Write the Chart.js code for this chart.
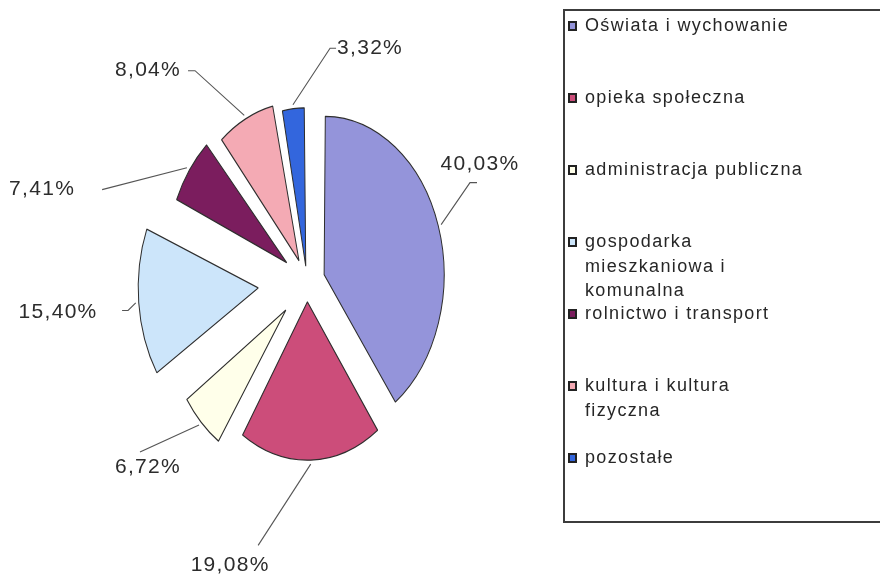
<!DOCTYPE html>
<html><head><meta charset="utf-8">
<script src="https://cdn.jsdelivr.net/npm/chart.js@4/dist/chart.umd.min.js"></script>
<style>
html,body{margin:0;padding:0;background:#fff;overflow:hidden;}
#wrap{position:relative;width:880px;height:579px;}
canvas{position:absolute;left:0;top:0;}
#legend{position:absolute;left:563px;top:9px;width:340px;height:514px;border:2px solid #3c3c3c;box-sizing:border-box;font-family:'Liberation Sans',Arial,sans-serif;font-size:18px;letter-spacing:1.35px;color:#262626;}
.item{position:absolute;left:20px;line-height:24.5px;white-space:nowrap;}
.sw{position:absolute;left:-17px;top:8px;width:5px;height:6px;border:2px solid #222;}
</style></head>
<body>
<div id="wrap"><canvas id="c" width="880" height="579"></canvas><div id="legend"></div></div>
<script>
const categories = [
  ['Oświata i wychowanie'],
  ['opieka społeczna'],
  ['administracja publiczna'],
  ['gospodarka', 'mieszkaniowa i', 'komunalna'],
  ['rolnictwo i transport'],
  ['kultura i kultura', 'fizyczna'],
  ['pozostałe']
];
const shares = [40.03, 19.08, 6.72, 15.40, 7.41, 8.04, 3.32];
const percentLabels = ['40,03%', '19,08%', '6,72%', '15,40%', '7,41%', '8,04%', '3,32%'];
const sliceColors = ['#9494DA', '#CC4D7A', '#FFFFEA', '#CCE5FA', '#7B1D5E', '#F4AAB4', '#3366DD'];

const R = 120, SY = 1.32;
const explode = [72, 60, 120, 196, 100, 72, 48];

const labelLayout = [
  {a: 62.8, d: 194.5, e: [-10, 18], t: 7},
  {a: 199.7, d: 228, e: [28, -20], t: 0},
  {a: 228.6, d: 212, e: [-8, -15], t: 0},
  {a: 264.7, d: 250, e: [70, -2], t: -6},
  {a: 284.8, d: 274, e: [60, 0], t: 0},
  {a: 315.2, d: 225.6, e: [47, 0], t: -7},
  {a: 19.6, d: 188, e: [-40, 0], t: 6}
];

const squash = {
  id: 'squash',
  afterDatasetsUpdate(chart) {
    const arcs = chart.getDatasetMeta(0).data;
    arcs.forEach(arc => {
      const off = (arc.options.offset || 0) / 4;
      const circ = arc.endAngle - arc.startAngle;
      const fix = 1 - Math.sin(Math.min(Math.PI, circ));
      arc.outerRadius = R - off * fix;
    });
  },
  beforeDatasetsDraw(chart) {
    const arc = chart.getDatasetMeta(0).data[0];
    const ctx = chart.ctx;
    ctx.save();
    ctx.translate(arc.x, arc.y);
    ctx.scale(1, SY);
    ctx.translate(-arc.x, -arc.y);
  },
  afterDatasetsDraw(chart) {
    const ctx = chart.ctx;
    ctx.restore();
    const arcs = chart.getDatasetMeta(0).data;
    ctx.save();
    ctx.font = '21px "Liberation Sans", Arial, sans-serif';
    ctx.letterSpacing = '1.3px';
    ctx.textAlign = 'center';
    ctx.textBaseline = 'middle';
    ctx.strokeStyle = '#555';
    ctx.lineWidth = 1.1;
    arcs.forEach((arc, i) => {
      const L = labelLayout[i];
      const cx = arc.x, cy = arc.y;
      const ar = L.a * Math.PI / 180;
      const tx = cx + Math.sin(ar) * L.d;
      const ty = cy - Math.cos(ar) * L.d * SY;
      const mid = (arc.startAngle + arc.endAngle) / 2;
      const rr = R + (arc.options.offset || 0) / 4 + 3;
      const px = cx + Math.cos(mid) * rr;
      const py = cy + Math.sin(mid) * rr * SY;
      const ex = tx + L.e[0], ey = ty + L.e[1];
      ctx.beginPath();
      ctx.moveTo(px, py);
      ctx.lineTo(ex, ey);
      if (L.t) ctx.lineTo(ex + L.t, ey);
      ctx.stroke();
      ctx.fillStyle = '#2c2c2c';
      ctx.fillText(percentLabels[i], tx, ty);
    });
    ctx.restore();
  }
};

new Chart(document.getElementById('c'), {
  type: 'pie',
  data: {
    labels: categories,
    datasets: [{
      data: shares,
      backgroundColor: sliceColors,
      borderColor: '#2e2e2e',
      borderWidth: 1,
      offset: explode
    }]
  },
  options: {
    responsive: false,
    animation: false,
    radius: R,
    layout: {padding: {left: 0, right: 266, top: 0, bottom: 15}},
    plugins: {legend: {display: false}, tooltip: {enabled: false}}
  },
  plugins: [squash]
});

const leg = document.getElementById('legend');
categories.forEach((lines, i) => {
  const it = document.createElement('div');
  it.className = 'item';
  it.style.top = (2 + i * 72) + 'px';
  const sw = document.createElement('span');
  sw.className = 'sw';
  sw.style.background = sliceColors[i];
  it.appendChild(sw);
  lines.forEach((ln, k) => {
    if (k) it.appendChild(document.createElement('br'));
    it.appendChild(document.createTextNode(ln));
  });
  leg.appendChild(it);
});
</script>
</body></html>
